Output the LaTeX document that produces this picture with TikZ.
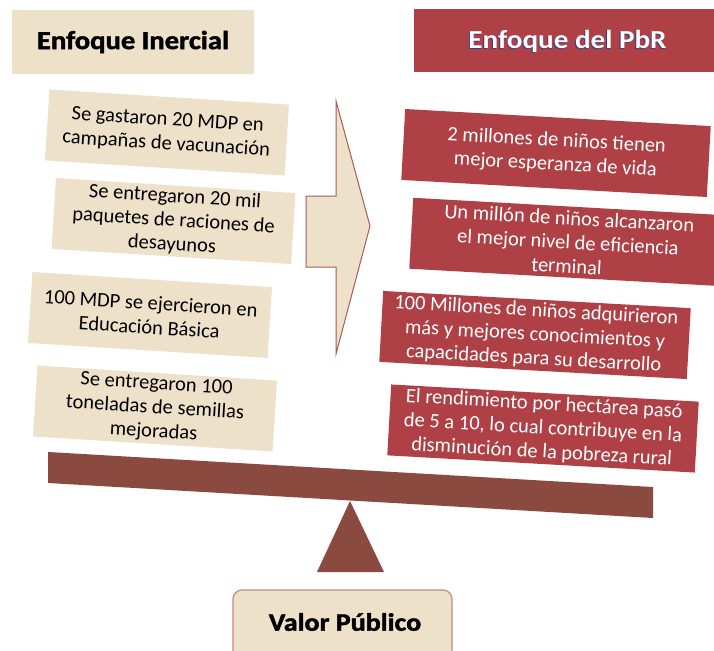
\documentclass[tikz,border=0pt]{standalone}
\usepackage{fontspec}
\setmainfont{Carlito}
\newfontface\heavyface[FakeBold=1.6]{Carlito Bold}
\definecolor{tanfill}{HTML}{EEE1C9}
\definecolor{pbrred}{HTML}{AF4045}
\definecolor{beamcol}{HTML}{8B4A40}
\definecolor{arrowline}{HTML}{A85A58}
\definecolor{valorline}{HTML}{C48A80}
\definecolor{shadowblue}{HTML}{2A3F8F}
\begin{document}
\begin{tikzpicture}[x=1pt,y=-1pt,
  inbox/.style={fill=tanfill, minimum width=240pt, minimum height=71pt, inner sep=0pt,
    align=center, font=\fontsize{20.5}{24}\selectfont, text=black, rotate=-3.6},
  pbrbox/.style={fill=pbrred, minimum width=308pt, minimum height=71pt, inner sep=0pt,
    align=center, font=\fontsize{20.5}{24}\selectfont, text=white, rotate=-3.2},
  titlefont/.style={font=\bfseries\fontsize{26}{30}\selectfont},
  heavytitle/.style={font=\heavyface\fontsize{26}{30}\selectfont},
  balance/.style={fill=beamcol, draw=none}
]
\useasboundingbox (0,0) rectangle (714,650);
\clip (0,0) rectangle (714,650);
\fill[white] (0,0) rectangle (714,650);

% title boxes
\node[fill=tanfill, minimum width=242pt, minimum height=64pt, inner sep=0pt] (inerbox) at (133,42) {};
\node[heavytitle, text=black] (inertxt) at (133,42) {\scalebox{1.1}[1]{Enfoque Inercial}};
\node[fill=pbrred, minimum width=310pt, minimum height=63pt, inner sep=0pt] (pbrtitlebox) at (569,40.5) {};
\node[titlefont, text=shadowblue] (pbrshadow) at (566.6,42) {\scalebox{1.12}[1]{Enfoque del PbR}};
\node[titlefont, text=white] (pbrtxt) at (567.5,41) {\scalebox{1.12}[1]{Enfoque del PbR}};

% left boxes
\node[inbox] (l1) at (167,132.5) {Se gastaron 20 MDP en\\campañas de vacunación};
\node[inbox] (l2) at (173.5,221) {Se entregaron 20 mil\\paquetes de raciones de\\desayunos};
\node[inbox] (l3) at (150,315) {100 MDP se ejercieron en\\Educación Básica};
\node[inbox] (l4) at (155,408.5) {Se entregaron 100\\toneladas de semillas\\mejoradas};

% middle arrow
\draw[fill=tanfill, draw=arrowline, line width=1pt, line join=miter]
  (306,196) -- (336,196) -- (336,101) -- (370,226) -- (336,354) -- (336,267) -- (306,267) -- cycle;

% right boxes
\node[pbrbox, minimum width=306pt] (r1) at (556,153) {2 millones de niños tienen\\mejor esperanza de vida};
\node[pbrbox, minimum width=314pt] (r2) at (568,242) {Un millón de niños alcanzaron\\el mejor nivel de eficiencia\\terminal};
\node[pbrbox] (r3) at (535,335) {100 Millones de niños adquirieron\\más y mejores conocimientos y\\capacidades para su desarrollo};
\node[pbrbox] (r4) at (543,428.5) {El rendimiento por hectárea pasó\\de 5 a 10, lo cual contribuye en la\\disminución de la pobreza rural};

% balance
\fill[balance] (48,452) -- (653,487) -- (653,518) -- (48,483) -- cycle;
\fill[balance] (350,501) -- (384,572) -- (317,572) -- cycle;

% valor publico
\draw[fill=tanfill, draw=valorline, line width=1.2pt, rounded corners=9pt] (233,590) rectangle (452,670);
\node[font=\heavyface\fontsize{25}{30}\selectfont, text=black] (valor) at (345,622) {\scalebox{1.12}[1]{Valor Público}};
\end{tikzpicture}
\end{document}
